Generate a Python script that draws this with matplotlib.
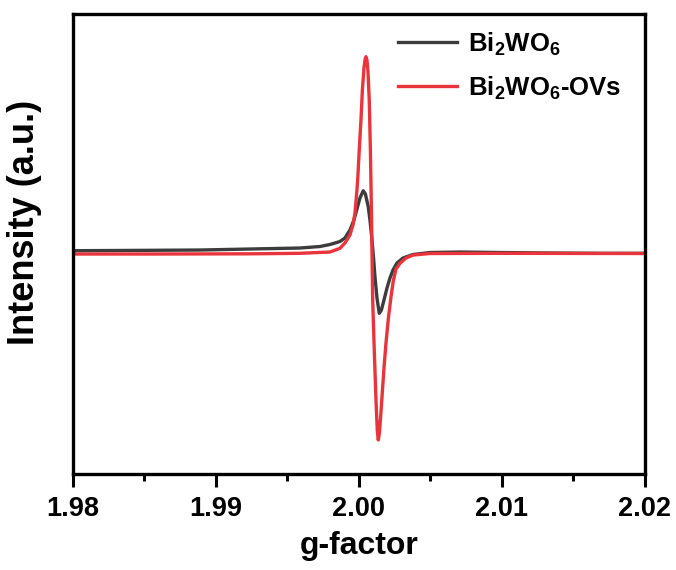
import matplotlib.pyplot as plt
from matplotlib.ticker import MultipleLocator

plt.rcParams['font.family'] = ['Liberation Sans', 'DejaVu Sans']
plt.rcParams['font.weight'] = 'bold'
plt.rcParams['mathtext.fontset'] = 'custom'
plt.rcParams['mathtext.rm'] = 'Liberation Sans:bold'
plt.rcParams['mathtext.bf'] = 'Liberation Sans:bold'

# EPR spectra, g-factor vs. intensity (a.u.)
G_BWO = [1.98000, 1.98538, 1.98888, 1.99238, 1.99587, 1.99727, 1.99797, 1.99867,
         1.99902, 1.99937, 1.99965, 1.99984, 2.00007, 2.00030, 2.00045, 2.00065,
         2.00077, 2.00089, 2.00101, 2.00112, 2.00126, 2.00142, 2.00157, 2.00175,
         2.00196, 2.00217, 2.00238, 2.00266, 2.00308, 2.00378, 2.00497, 2.00706,
         2.00986, 2.01336, 2.01685, 2.02000]
I_BWO = [2.3, 2.7, 3.0, 4.0, 5.0, 6.5, 8.5, 11.5,
         15.0, 23.0, 33.0, 43.0, 55.0, 62.3, 59.0, 46.3,
         33.0, 16.3, -3.0, -23.7, -45.0, -60.3, -57.0, -47.0,
         -35.0, -25.0, -17.0, -10.0, -5.0, -1.5, 0.5, 1.0,
         0.5, 0.0, -0.3, -0.3]

G_OVS = [1.98000, 1.98538, 1.99238, 1.99587, 1.99797, 1.99867, 1.99902, 1.99937,
         1.99958, 1.99972, 1.99986, 1.99993, 2.00002, 2.00014, 2.00024, 2.00035,
         2.00042, 2.00049, 2.00056, 2.00063, 2.00072, 2.00080, 2.00086, 2.00091,
         2.00096, 2.00107, 2.00119, 2.00128, 2.00135, 2.00143, 2.00152, 2.00163,
         2.00175, 2.00189, 2.00206, 2.00224, 2.00240, 2.00259, 2.00287, 2.00329,
         2.00380, 2.00497, 2.00986, 2.02000]
I_OVS = [-1.0, -1.0, -0.8, -0.3, 1.0, 4.7, 10.0, 18.0,
         28.0, 39.7, 63.0, 78.0, 103.0, 133.0, 163.0, 185.0,
         193.0, 196.3, 193.0, 182.0, 153.0, 103.0, 53.0, 3.0,
         -47.0, -97.0, -147.0, -177.0, -187.0, -180.0, -163.0, -140.0,
         -115.0, -90.0, -65.0, -44.0, -28.0, -16.0, -10.3, -5.0,
         -2.0, -0.5, -0.3, -0.5]

LABELS = ['Bi$_2$WO$_6$', 'Bi$_2$WO$_6$-OVs']
COLORS = ['#3c3c3c', '#e8343a']

fig = plt.figure(figsize=(6.76, 5.70), dpi=100)
ax = fig.add_axes([0.108, 0.1684, 0.846, 0.807])

ax.plot(G_BWO, I_BWO, color=COLORS[0], lw=2.4, label=LABELS[0])
ax.plot(G_OVS, I_OVS, color=COLORS[1], lw=2.4, label=LABELS[1])

ax.set_xlim(1.98, 2.02)
ax.set_ylim(-221, 239)
ax.xaxis.set_minor_locator(MultipleLocator(0.005))
ax.set_xticks([1.98, 1.99, 2.00, 2.01, 2.02])
ax.set_xticklabels(['1.98', '1.99', '2.00', '2.01', '2.02'])
ax.set_yticks([])
ax.tick_params(axis='x', which='major', direction='out', length=9, width=2.2,
               labelsize=19.5, pad=7)
ax.tick_params(axis='x', which='minor', direction='out', length=5, width=2.2)
for s in ax.spines.values():
    s.set_linewidth(2.4)

ax.set_xlabel('g-factor', fontsize=23, fontweight='bold', labelpad=6)
ax.set_ylabel('Intensity (a.u.)', fontsize=26, fontweight='bold')
ax.yaxis.set_label_coords(-0.055, 0.546)

ax.legend(loc='upper right', bbox_to_anchor=(1.0, 1.015), frameon=False,
          fontsize=18.5, handlelength=2.3, handletextpad=0.45, labelspacing=0.65)

fig.savefig('out.png', dpi=100)
